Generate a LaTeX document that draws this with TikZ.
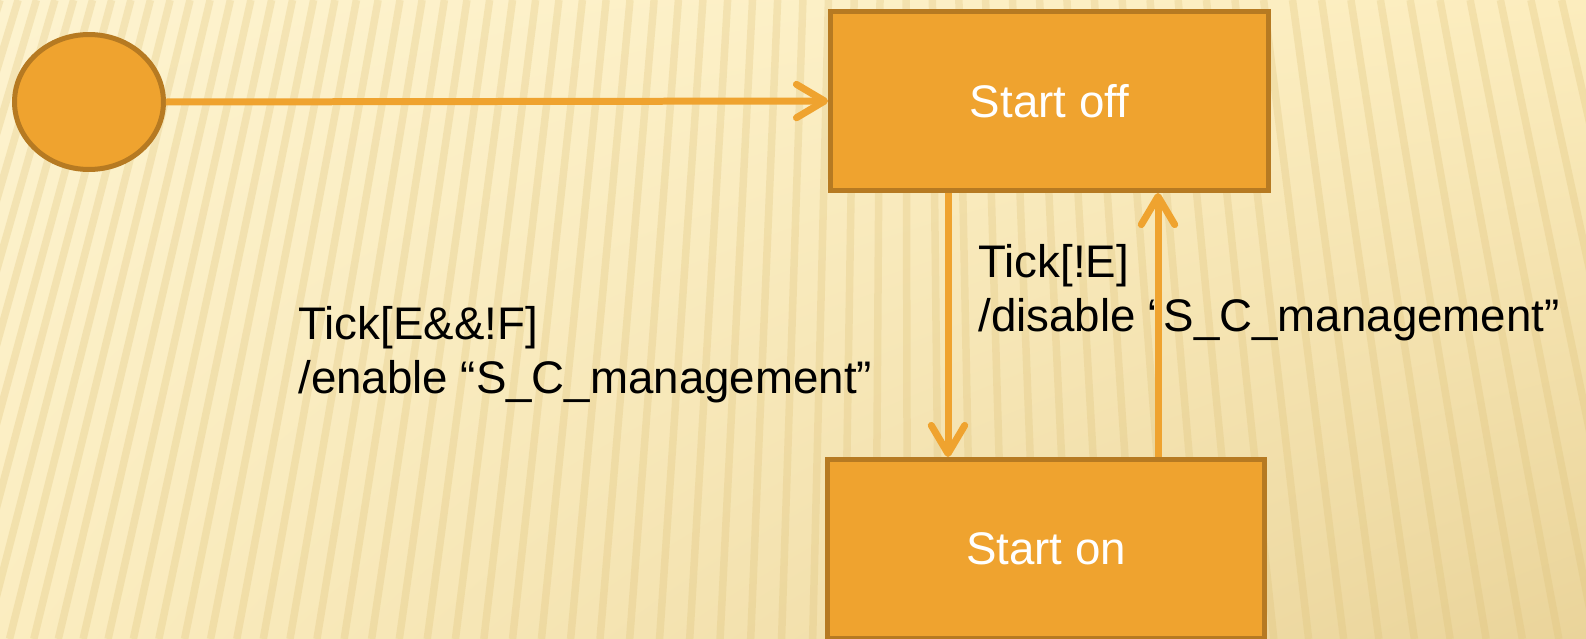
\documentclass[tikz,border=0pt]{standalone}
\usepackage{fontspec}
\setmainfont{Liberation Sans}
\usetikzlibrary{arrows.meta,shapes.geometric,shadings}
\definecolor{boxfill}{HTML}{EFA32F}
\definecolor{boxline}{HTML}{B67A22}
\definecolor{stripecol}{HTML}{DDC075}
\definecolor{bgtl}{HTML}{FDF3CF}
\definecolor{bgtr}{HTML}{FCEDBE}
\definecolor{bgbl}{HTML}{FBEDC0}
\definecolor{bgbr}{HTML}{EAD49A}
\begin{document}
\begin{tikzpicture}
    [ x=0.02cm, y=-0.02cm
    , state/.style={draw=boxline,fill=boxfill,line width=0.1cm,shape=rectangle,minimum width=8.76cm,minimum height=3.58cm,text=white}
    , startdot/.style={draw=boxline,fill=boxfill,line width=0.1cm,shape=ellipse,minimum width=2.98cm,minimum height=2.7cm,inner sep=0pt}
    , trans/.style={draw=boxfill,line width=0.14cm,-{Straight Barb[length=16pt,width=19pt,round]}}
    , guard/.style={align=left,anchor=north west,inner sep=0pt}
    , stripe/.style={draw=stripecol,line width=0.15cm,opacity=0.28}
    , every node/.style={font=\fontsize{26}{30.6}\selectfont}
    ]

    % background
    \clip (0,0) rectangle (1586,639);
    \shade [upper left=bgtl, upper right=bgtr, lower left=bgbl, lower right=bgbr]
      (0,0) rectangle (1586,639);
    \foreach \i in {-10,...,66} {
      \pgfmathsetmacro\t{18*\i+0.1*\i*\i}
      \draw [stripe] (\t,0) -- ({\t+(\t-900)*0.22},639);
    }

    \node [startdot] (init) at (89,102) {};
    \node [state] (off) at (1049.5,101) {Start off};
    \node [state] (on)  at (1046,549)   {Start on};

    \node [guard] (g1) at (298,306) {Tick[E\&\&!F]\\/enable “S\_C\_management”};
    \node [guard] (g2) at (978,244) {Tick[!E]\\/disable “S\_C\_management”};

    \coordinate (dn) at (948,0);
    \coordinate (up) at (1158,0);
    \draw [trans] (init.east) -- (off.west);
    \draw [trans] (off.south -| dn) -- (on.north -| dn);
    \draw [trans] (on.north -| up) -- (off.south -| up);
  \end{tikzpicture}
\end{document}
